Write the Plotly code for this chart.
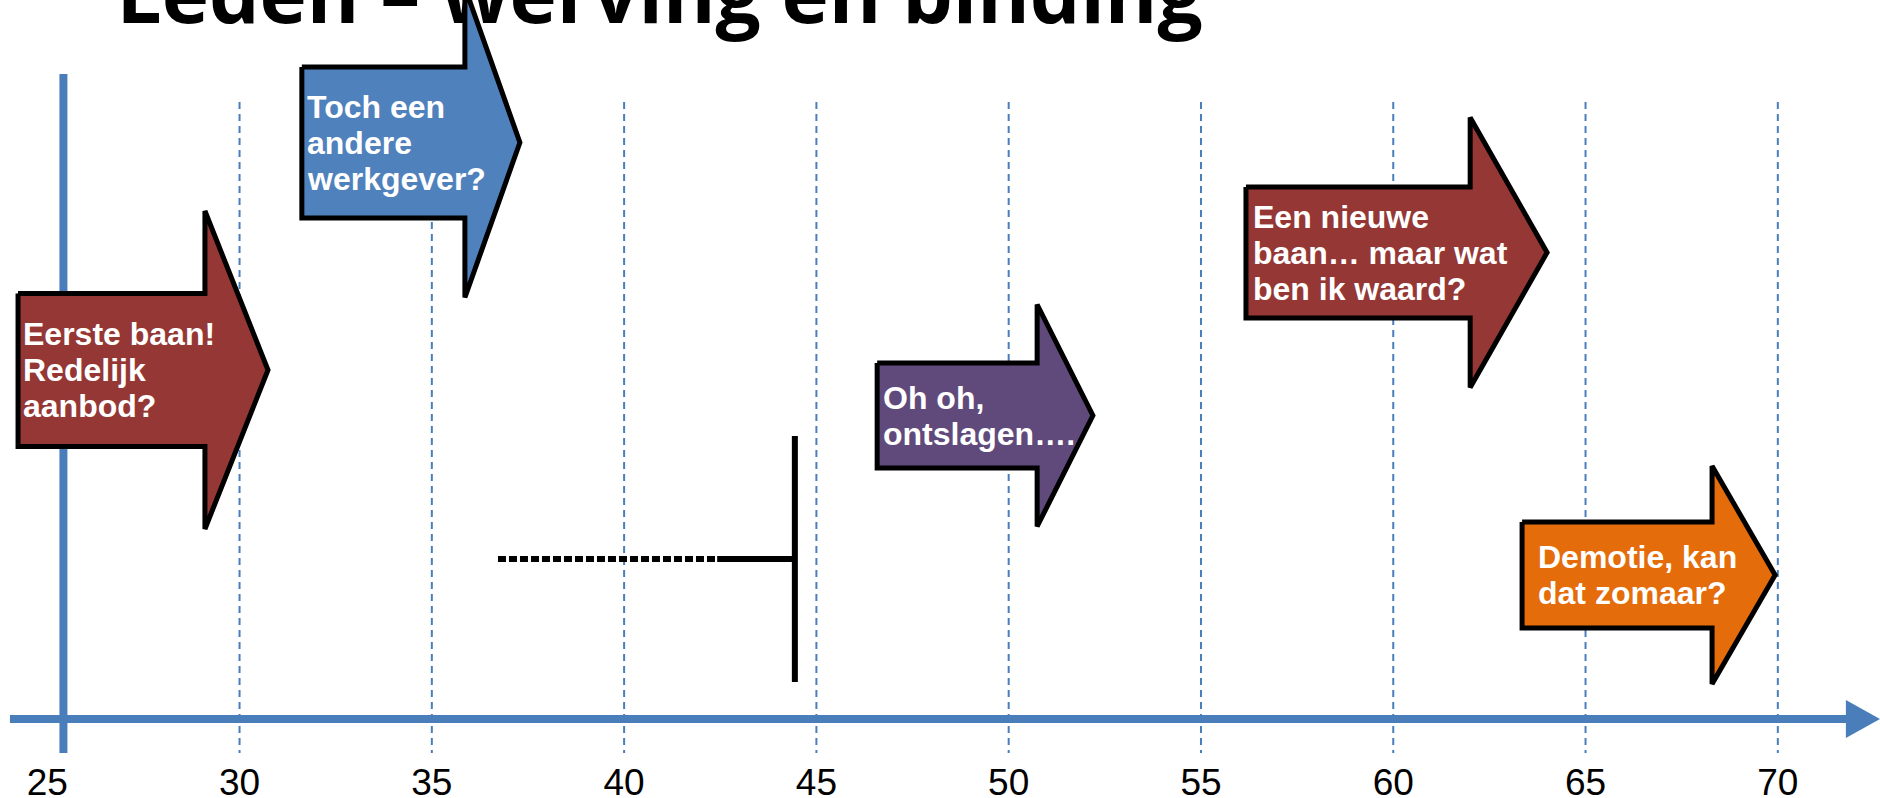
import plotly.graph_objects as go

# ---------------- data ----------------
event_labels = [
    "Eerste baan!<br>Redelijk<br>aanbod?",
    "Toch een<br>andere<br>werkgever?",
    "Oh oh,<br>ontslagen….",
    "Een nieuwe<br>baan… maar wat<br>ben ik waard?",
    "Demotie, kan<br>dat zomaar?",
]
event_start_age = [24.24, 31.62, 46.58, 56.17, 63.35]
event_head_age = [29.10, 35.86, 50.74, 62.00, 68.29]
event_end_age = [30.74, 37.29, 52.19, 64.00, 69.93]

tick_values = [25, 30, 35, 40, 45, 50, 55, 60, 65, 70]
tick_labels = ["25", "30", "35", "40", "45", "50", "55", "60", "65", "70"]

marker_age = 44.44          # vertical bar of the T
marker_dotted_from = 36.72  # start of dotted part
marker_solid_from = 42.42   # start of solid part

title_text = "Leden – werving en binding"

# ---------------- layout / style ----------------
event_colors = ["#953735", "#4F81BD", "#604A7B", "#953735", "#E46C0A"]
event_y = [370, 142.5, 415.5, 252.5, 575]
body_half = [76.5, 75.5, 52.5, 65.5, 53]
head_half = [159, 155, 111, 135, 109]
text_pad = [3, 3, 4, 5, 14]
line_gap = 36

axis_blue = "#4A7EBB"
X_RANGE = [23.771, 72.657]
Y_RANGE = [798, 0]
W, H = 1880, 798
TITLE_X = 26.80   # left of title, in axis units
TITLE_Y = 3       # vertical anchor (page-like y units)

fig = go.Figure()

# title drawn first so the blue arrow sits on top of it
fig.add_trace(go.Scatter(
    x=[TITLE_X], y=[TITLE_Y], mode="text", text=[title_text],
    textposition="middle right", cliponaxis=False,
    textfont=dict(family="Open Sans", size=80, color="black", weight="bold"),
    hoverinfo="skip", showlegend=False,
))

# arrows
for i, lab in enumerate(event_labels):
    x0, xh, xt = event_start_age[i], event_head_age[i], event_end_age[i]
    yc, bh, hh = event_y[i], body_half[i], head_half[i]
    xs = [x0, xh, xh, xt, xh, xh, x0, x0]
    ys = [yc - bh, yc - bh, yc - hh, yc, yc + hh, yc + bh, yc + bh, yc - bh]
    fig.add_trace(go.Scatter(
        x=xs, y=ys, mode="lines", fill="toself",
        fillcolor=event_colors[i],
        line=dict(color="black", width=5),
        hoverinfo="skip", showlegend=False,
    ))
    lines = lab.split("<br>")
    n = len(lines)
    for j, t in enumerate(lines):
        fig.add_annotation(
            x=x0, y=yc + (j - (n - 1) / 2) * line_gap,
            xref="x", yref="y", text=t, showarrow=False,
            xanchor="left", yanchor="middle", xshift=text_pad[i],
            font=dict(family="Liberation Sans, Arial", size=32, color="white", weight="bold"),
        )

# T marker
fig.add_trace(go.Scatter(x=[marker_age, marker_age], y=[436, 682], mode="lines",
                         line=dict(color="black", width=6), hoverinfo="skip", showlegend=False))
fig.add_trace(go.Scatter(x=[marker_solid_from, marker_age], y=[559, 559], mode="lines",
                         line=dict(color="black", width=6), hoverinfo="skip", showlegend=False))
fig.add_trace(go.Scatter(x=[marker_dotted_from, marker_solid_from], y=[559, 559], mode="lines",
                         line=dict(color="black", width=6, dash="8px,3px"), hoverinfo="skip", showlegend=False))

shapes = []
# dashed gridlines at ticks (except the first, which is the axis)
for v in tick_values[1:]:
    shapes.append(dict(type="line", xref="x", yref="y", x0=v, x1=v, y0=102, y1=753,
                       line=dict(color=axis_blue, width=2, dash="7px,5px"), layer="below"))
# vertical axis
shapes.append(dict(type="line", xref="x", yref="y", x0=25.42, x1=25.42, y0=74, y1=753,
                   line=dict(color=axis_blue, width=8), layer="below"))
# horizontal axis arrow
shapes.append(dict(type="line", xref="x", yref="y", x0=24.03, x1=71.8, y0=719, y1=719,
                   line=dict(color=axis_blue, width=8), layer="below"))
shapes.append(dict(type="path", xref="x", yref="y",
                   path="M 71.77,700 L 72.657,719 L 71.77,738 Z",
                   fillcolor=axis_blue, line=dict(width=0), layer="below"))

fig.update_layout(
    width=W, height=H, margin=dict(l=0, r=0, t=0, b=0, autoexpand=False),
    paper_bgcolor="white", plot_bgcolor="white",
    shapes=shapes, showlegend=False,
    xaxis=dict(range=X_RANGE, anchor="free", position=(H - 719) / H, automargin=False,
               showgrid=False, zeroline=False, showline=False,
               tickmode="array", tickvals=tick_values, ticktext=tick_labels,
               ticks="outside", ticklen=31, tickcolor="rgba(0,0,0,0)",
               tickfont=dict(family="Liberation Sans, Arial", size=37, color="black")),
    yaxis=dict(range=Y_RANGE, visible=False, showgrid=False, zeroline=False, automargin=False),
)

fig.write_html("out.html", config={"displayModeBar": False},
               post_script="document.body.style.margin='0';")
